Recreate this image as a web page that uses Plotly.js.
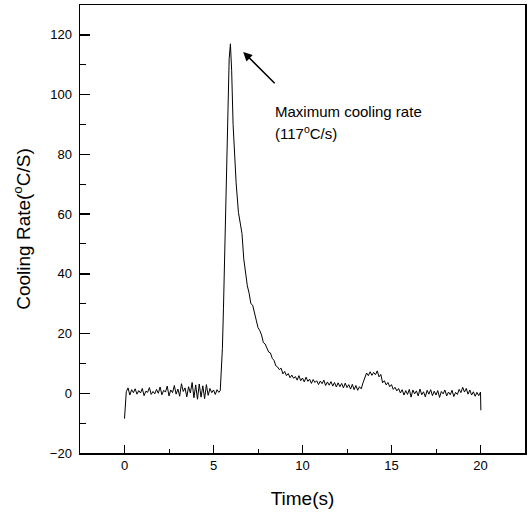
<!DOCTYPE html>
<html>
<head>
<meta charset="utf-8">
<script src="https://cdn.plot.ly/plotly-3.0.1.min.js"></script>
<style>html,body{margin:0;padding:0;background:#fff;}#chart{width:529px;height:514px;}</style>
</head>
<body>
<div id="chart"></div>
<script>
// Time (s)
const time = [
  0.0, 0.1, 0.2, 0.3, 0.4, 0.5, 0.6, 0.7, 0.8, 0.9,
  1.0, 1.1, 1.2, 1.3, 1.4, 1.5, 1.6, 1.7, 1.8, 1.9,
  2.0, 2.1, 2.2, 2.3, 2.4, 2.5, 2.6, 2.7, 2.8, 2.9,
  3.0, 3.1, 3.2, 3.3, 3.4, 3.5, 3.6, 3.7, 3.8, 3.9,
  4.0, 4.1, 4.2, 4.3, 4.4, 4.5, 4.6, 4.7, 4.8, 4.9,
  5.0, 5.1, 5.2, 5.3, 5.38, 5.45, 5.5, 5.56, 5.63, 5.71,
  5.8, 5.88, 5.95, 6.02, 6.1, 6.2, 6.27, 6.4, 6.5, 6.6,
  6.7, 6.8, 6.9, 7.0, 7.1, 7.2, 7.3, 7.4, 7.5, 7.6,
  7.7, 7.8, 7.9, 8.0, 8.1, 8.2, 8.3, 8.4, 8.5, 8.6,
  8.7, 8.8, 8.9, 9.0, 9.1, 9.2, 9.3, 9.4, 9.5, 9.6,
  9.7, 9.8, 9.9, 10.0, 10.1, 10.2, 10.3, 10.4, 10.5, 10.6,
  10.7, 10.8, 10.9, 11.0, 11.1, 11.2, 11.3, 11.4, 11.5, 11.6,
  11.7, 11.8, 11.9, 12.0, 12.1, 12.2, 12.3, 12.4, 12.5, 12.6,
  12.7, 12.8, 12.9, 13.0, 13.1, 13.2, 13.3, 13.4, 13.5, 13.6,
  13.7, 13.8, 13.9, 14.0, 14.1, 14.2, 14.3, 14.4, 14.5, 14.6,
  14.7, 14.8, 14.9, 15.0, 15.1, 15.2, 15.3, 15.4, 15.5, 15.6,
  15.7, 15.8, 15.9, 16.0, 16.1, 16.2, 16.3, 16.4, 16.5, 16.6,
  16.7, 16.8, 16.9, 17.0, 17.1, 17.2, 17.3, 17.4, 17.5, 17.6,
  17.7, 17.8, 17.9, 18.0, 18.1, 18.2, 18.3, 18.4, 18.5, 18.6,
  18.7, 18.8, 18.9, 19.0, 19.1, 19.2, 19.3, 19.4, 19.5, 19.6,
  19.7, 19.8, 19.9, 20.0, 20.02
];
// Cooling rate (°C/s)
const coolingRate = [
  -8.5, 0.5, 1.8, -0.6, 1.2, 0.2, 1.5, -0.3, 0.9, 0.1,
  1.6, -0.8, 0.7, 0.3, 1.9, -0.4, 0.6, -0.2, 1.3, 0.0,
  2.1, -0.5, 1.0, 0.4, 2.4, -0.9, 1.1, 0.2, 2.6, -0.3,
  1.4, -1.0, 3.2, 0.6, 1.8, -1.2, 2.2, 0.1, 3.6, -1.5,
  2.8, -2.0, 3.1, -1.3, 2.5, -1.8, 2.9, -0.7, 1.6, 0.2,
  1.1, -0.4, 1.2, 0.3, 0.9, 8, 15, 28.5, 48, 70.5,
  95, 112, 117, 108, 90, 76, 70.5, 60.6, 57, 53.5,
  45, 40.5, 36, 33.5, 30, 29.5, 26.5, 24.5, 22, 21,
  19.5, 17, 16.5, 15, 13.8, 13.5, 11.7, 11, 9.2, 8.8,
  7.9, 8.4, 6.5, 7.3, 5.9, 6.6, 5.2, 6.1, 5.0, 5.6,
  4.4, 5.9, 4.2, 5.1, 3.8, 5.4, 4.0, 4.7, 3.3, 4.6,
  3.6, 4.2, 2.9, 4.1, 3.2, 4.4, 2.6, 3.8, 2.7, 3.9,
  2.4, 3.6, 2.1, 3.5, 2.2, 3.3, 1.8, 3.4, 1.9, 2.9,
  1.4, 3.0, 1.2, 2.6, 1.0, 2.2, 1.5, 3.5, 5.5, 6.8,
  5.9, 7.2, 6.0, 7.0, 6.2, 7.5, 5.5, 6.3, 3.5, 4.2,
  2.8, 3.6, 2.2, 2.9, 1.3, 2.0, 0.8, 1.6, 0.1, 1.2,
  -0.6, 0.9, -0.4, 1.3, -1.3, 1.1, -0.2, 0.8, -0.9, 1.4,
  -0.5, 0.5, -1.2, 1.0, -0.3, 1.2, -0.8, 0.7, -0.6, 0.9,
  -1.4, 0.6, -0.2, 1.1, -0.9, 0.4, -0.5, 1.0, -1.1, 0.3,
  -0.4, 1.3, 0.2, 2.0, 0.4, 1.6, -0.3, 1.1, -0.6, 0.5,
  -1.0, 0.3, -0.8, 0.4, -5.7
];

const xTitle = 'Time(s)';
const yTitle = 'Cooling Rate(<sup>o</sup>C/S)';
const noteLine1 = 'Maximum cooling rate';
const noteLine2 = '(117<sup>o</sup>C/s)';

const font = 'Arial, "Liberation Sans", Helvetica, sans-serif';

const trace = {
  x: time, y: coolingRate, type: 'scatter', mode: 'lines',
  line: {color: '#000', width: 1}, hoverinfo: 'skip'
};

const layout = {
  width: 529, height: 514,
  margin: {l: 80, r: 4, t: 5, b: 61},
  paper_bgcolor: '#fff', plot_bgcolor: '#fff',
  showlegend: false,
  font: {family: font, color: '#000', size: 13},
  xaxis: {
    range: [-2.5, 22.5], tick0: 0, dtick: 5,
    ticks: 'inside', ticklen: 8, tickwidth: 1.5, tickcolor: '#000',
    minor: {dtick: 2.5, ticks: 'inside', ticklen: 4, tickwidth: 1, tickcolor: '#000'},
    showline: true, linewidth: 1.5, linecolor: '#000', mirror: true,
    showgrid: false, zeroline: false,
    tickfont: {family: font, size: 13, color: '#000'},
    title: {text: xTitle, font: {family: font, size: 19, color: '#000'}, standoff: 19},
    automargin: false
  },
  yaxis: {
    range: [-20, 130], tick0: 0, dtick: 20,
    ticks: 'inside', ticklen: 10, tickwidth: 1.5, tickcolor: '#000',
    minor: {dtick: 10, ticks: 'inside', ticklen: 6, tickwidth: 1, tickcolor: '#000'},
    showline: true, linewidth: 1.5, linecolor: '#000', mirror: true,
    showgrid: false, zeroline: false,
    tickfont: {family: font, size: 13, color: '#000'},
    ticklabelstandoff: 4,
    title: {text: yTitle, font: {family: font, size: 19, color: '#000'}, standoff: 14},
    automargin: false
  },
  annotations: [
    {x: 6.67, y: 114.3, ax: 8.52, ay: 103.3, axref: 'x', ayref: 'y', xref: 'x', yref: 'y',
     text: '', showarrow: true, arrowhead: 2, arrowsize: 1.2, arrowwidth: 1.5, arrowcolor: '#000'},
    {x: 8.35, y: 94.4, xref: 'x', yref: 'y', xanchor: 'left', yanchor: 'middle',
     text: noteLine1, showarrow: false, font: {family: font, size: 15, color: '#000'}},
    {x: 8.35, y: 87.4, xref: 'x', yref: 'y', xanchor: 'left', yanchor: 'middle',
     text: noteLine2, showarrow: false, font: {family: font, size: 15, color: '#000'}}
  ]
};

Plotly.newPlot('chart', [trace], layout, {staticPlot: true, displayModeBar: false});
</script>
</body>
</html>
